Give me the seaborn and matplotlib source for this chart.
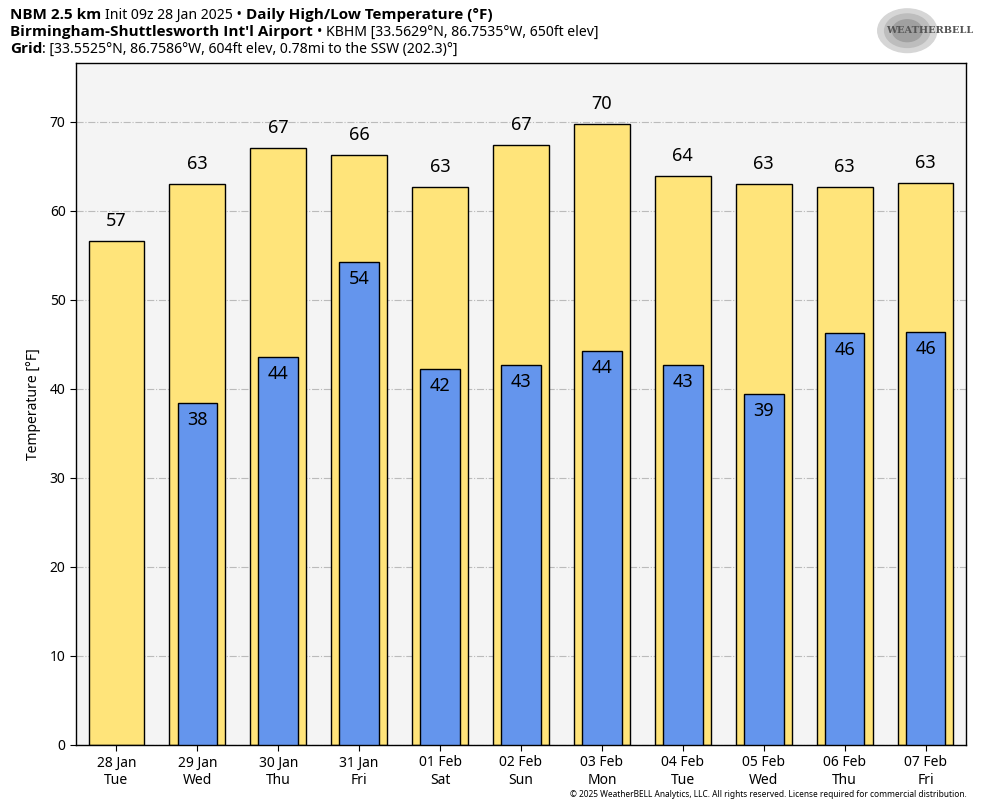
import numpy as np
import pandas as pd
import matplotlib
matplotlib.use('Agg')
import matplotlib.pyplot as plt
from matplotlib.patches import Ellipse
from matplotlib import font_manager as fm
import seaborn as sns

# daily high/low forecast values
days = ['28 Jan\nTue', '29 Jan\nWed', '30 Jan\nThu', '31 Jan\nFri', '01 Feb\nSat', '02 Feb\nSun',
        '03 Feb\nMon', '04 Feb\nTue', '05 Feb\nWed', '06 Feb\nThu', '07 Feb\nFri']
highs = [56.6, 63.0, 67.0, 66.3, 62.7, 67.4, 69.7, 63.9, 63.0, 62.7, 63.1]
lows = [np.nan, 38.4, 43.6, 54.2, 42.2, 42.7, 44.3, 42.7, 39.4, 46.3, 46.4]

df = pd.DataFrame({'day': days, 'high': highs, 'low': lows})

sns.set_style('ticks')
plt.rcParams['font.family'] = ['Noto Sans', 'DejaVu Sans']
plt.rcParams['text.color'] = 'black'
plt.rcParams['axes.labelcolor'] = 'black'
plt.rcParams['xtick.color'] = 'black'
plt.rcParams['ytick.color'] = 'black'

# pick a bold family that really has a bold face
bold_family = 'Noto Sans'
for fam in ['Noto Sans', 'Open Sans', 'Lato', 'DejaVu Sans']:
    f = fm.findfont(fm.FontProperties(family=fam, weight='bold'), fallback_to_default=False)
    if 'bold' in f.lower():
        bold_family = fam
        break

fig = plt.figure(figsize=(9.84, 8.08), dpi=100)
ax = fig.add_axes([0.0772, 0.078, 0.9045, 0.844])
ax.set_facecolor('#f4f4f4')

sns.barplot(data=df, x='day', y='high', order=days, width=0.69, color='#ffe47a',
            edgecolor='black', linewidth=1, saturation=1, ax=ax, zorder=2)
sns.barplot(data=df.dropna(), x='day', y='low', order=days, width=0.49, color='#6495ed',
            edgecolor='black', linewidth=1, saturation=1, ax=ax, zorder=3)

# value labels
for i, (h, l) in enumerate(zip(highs, lows)):
    ax.text(i, h + 1.25, f'{h:.0f}', ha='center', va='bottom', fontsize=13, zorder=4)
    if not np.isnan(l):
        ax.text(i, l - 0.9, f'{l:.0f}', ha='center', va='top', fontsize=13, zorder=4)

ax.set_xlim(-0.5, 10.5)
ax.set_ylim(0, 76.6)
ax.set_yticks(range(0, 80, 10))
ax.yaxis.grid(True, color='#bbbbbb', linestyle='-.', linewidth=0.8, zorder=0)
ax.set_axisbelow(True)
ax.set_xlabel('')
ax.set_ylabel('Temperature [°F]', fontsize=10, labelpad=6)
ax.tick_params(axis='both', labelsize=10, length=4)
for s in ax.spines.values():
    s.set_visible(True)
    s.set_color('black')
    s.set_linewidth(1)

# header, written piece by piece
renderer = fig.canvas.get_renderer()


def line(y, pieces):
    x = 10
    for txt, bold in pieces:
        t = fig.text(x / 984, y, txt, fontsize=11 if bold else 10.1, va='center',
                     family=[bold_family if bold else 'Noto Sans', 'DejaVu Sans'],
                     fontweight='bold' if bold else 'normal')
        x = t.get_window_extent(renderer).x1


line(1 - 15 / 808, [('NBM 2.5 km ', True), ('Init 09z 28 Jan 2025 • ', False),
                    ('Daily High/Low Temperature (°F)', True)])
line(1 - 32 / 808, [('Birmingham-Shuttlesworth Int\u2032l Airport ', True),
                    ('• KBHM [33.5629°N, 86.7535°W, 650ft elev]', False)])
line(1 - 49 / 808, [('Grid', True), (': [33.5525°N, 86.7586°W, 604ft elev, 0.78mi to the SSW (202.3)°]', False)])

# logo approximation
for w, c in [(0.060, '#d6d6d6'), (0.046, '#bdbdbd'), (0.030, '#a0a0a0')]:
    fig.patches.append(Ellipse((0.922, 0.962), w, w * 0.9, color=c, transform=fig.transFigure, zorder=0))
fig.text(0.945, 0.962, 'WEATHERBELL', fontsize=7, fontweight='bold', color='#555555',
         ha='center', va='center', family='DejaVu Serif')

fig.text(0.982, 0.017, '© 2025 WeatherBELL Analytics, LLC. All rights reserved. License required for commercial distribution.',
         fontsize=6, ha='right', va='center')

fig.savefig('out.png', dpi=100)
